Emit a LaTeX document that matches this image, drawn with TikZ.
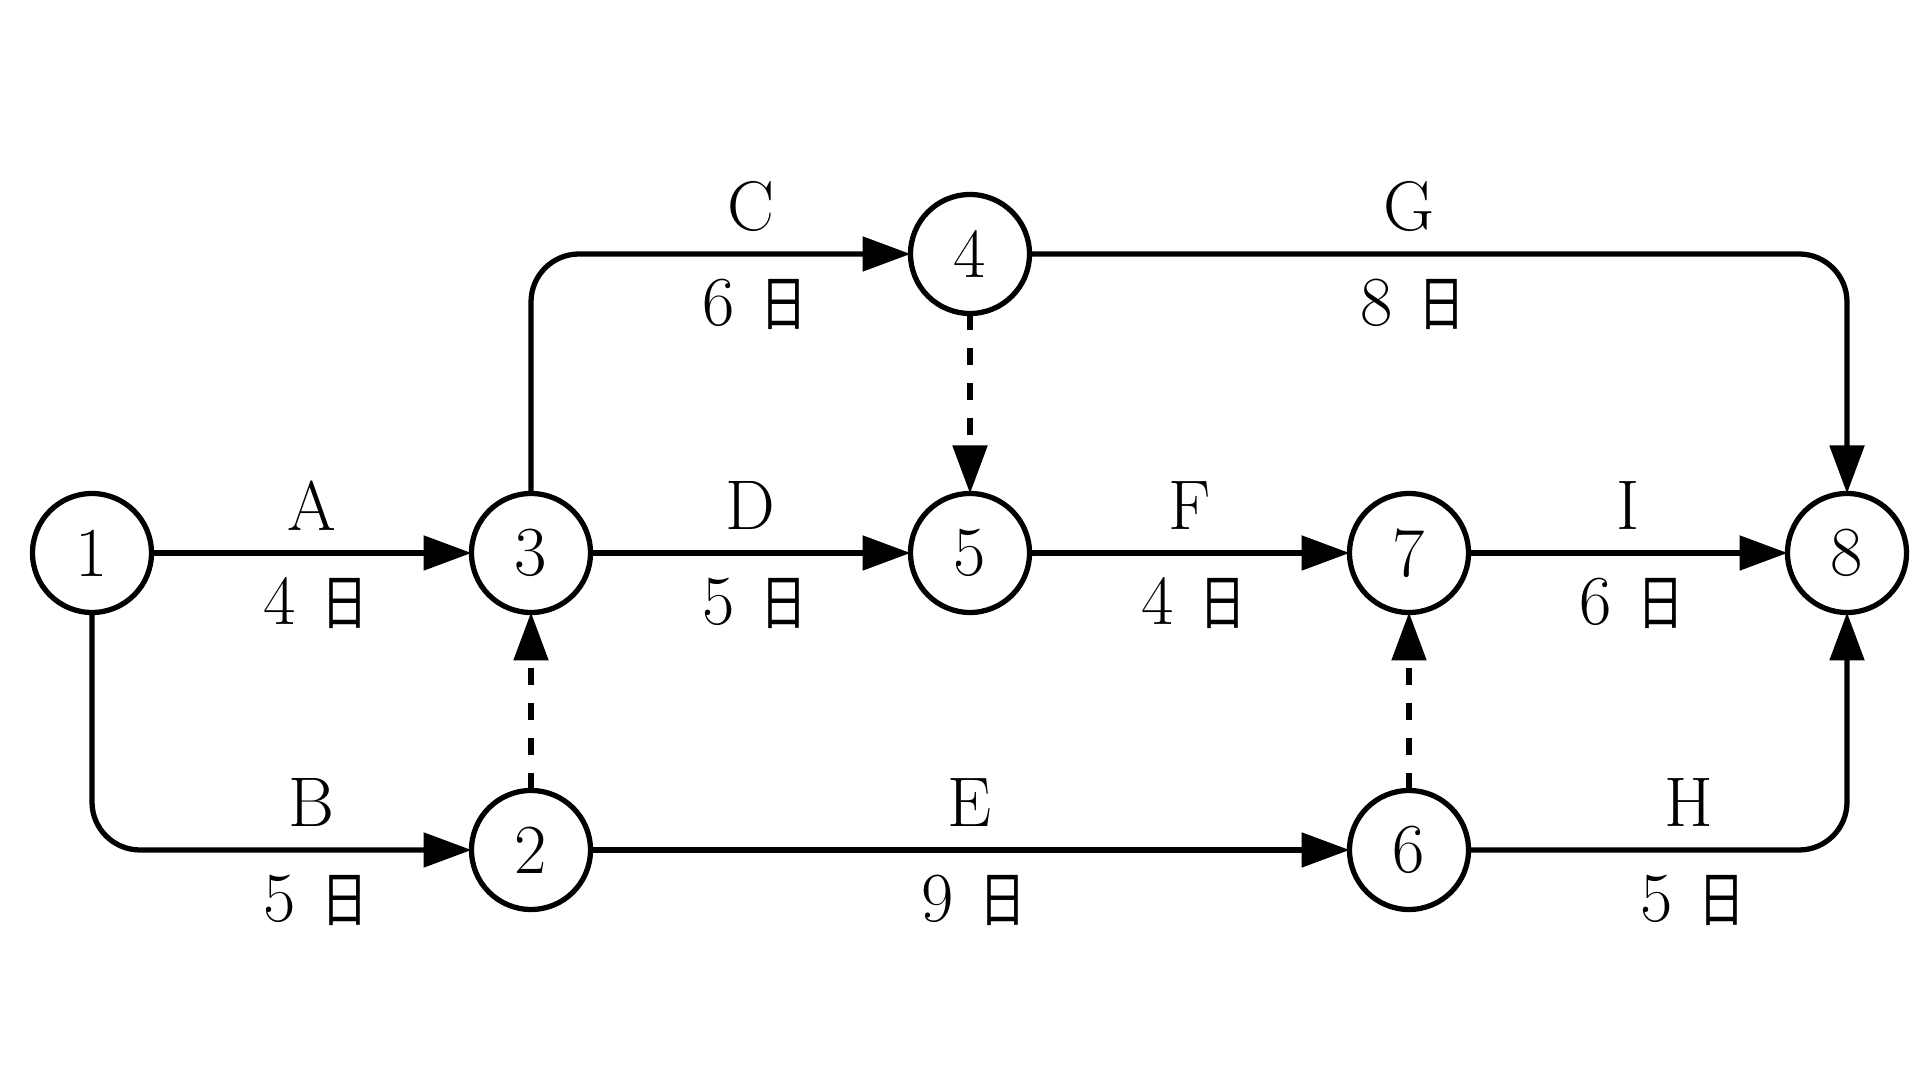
\documentclass[tikz,border=0pt]{standalone}
\usepackage{fontspec}
\usepackage{graphicx}
\usepackage{xcolor}
\usepackage{tikz}
\usetikzlibrary{arrows.meta,positioning,calc}
\newfontfamily\cjk{Noto Sans CJK SC}
\newcommand{\dayunit}{\scalebox{0.78}[1]{\fontsize{17}{20}\selectfont\cjk 日}}
\newcommand{\dur}[1]{\hspace{0.08cm}#1\hspace{0.26cm}\dayunit}

\begin{document}
\begin{tikzpicture}[%
      event/.style={draw, circle, line width=1.5pt, minimum size=1.19cm,
        inner sep=0pt, outer sep=0pt, font=\fontsize{20}{24}\selectfont},
      work/.style={line width=1.5pt, rounded corners=0.48cm,
        -{Triangle[length=0.48cm,width=0.34cm]}},
      dummy/.style={work, dash pattern=on 0.17cm off 0.18cm},
      lab/.style={inner sep=0pt, font=\fontsize{20}{24}\selectfont}]
    \useasboundingbox (0,0) rectangle (19.2,10.8);
    % events
    \node[event] (n1) at (0.92,5.27) {1};
    \node[event] (n3) at (5.31,5.27) {3};
    \node[event] (n5) at (9.70,5.27) {5};
    \node[event] (n7) at (14.09,5.27) {7};
    \node[event] (n8) at (18.47,5.27) {8};
    \node[event] (n4) at (9.70,8.26) {4};
    \node[event] (n2) at (5.31,2.30) {2};
    \node[event] (n6) at (14.09,2.30) {6};
    % activities
    \draw[work] (n1) -- (n3);
    \draw[work] (n1) |- (n2);
    \draw[work] (n3) |- (n4);
    \draw[work] (n3) -- (n5);
    \draw[work] (n2) -- (n6);
    \draw[work] (n5) -- (n7);
    \draw[work] (n4) -| (n8);
    \draw[work] (n7) -- (n8);
    \draw[work] (n6) -| (n8);
    \draw[dummy] (n4) -- (n5);
    \draw[dummy] (n2) -- (n3);
    \draw[dummy] (n6) -- (n7);
    % labels
    \node[lab] (lA) at ([yshift=0.47cm]$(n1)!.5!(n3)$) {A};
    \node[lab] (tA) at ([yshift=-0.5cm]$(n1)!.5!(n3)$) {\dur{4}};
    \node[lab] (lB) at ([yshift=0.47cm]$(n1 |- n2)!.5!(n2)$) {B};
    \node[lab] (tB) at ([yshift=-0.5cm]$(n1 |- n2)!.5!(n2)$) {\dur{5}};
    \node[lab] (lC) at ([yshift=0.47cm]$(n3 |- n4)!.5!(n4)$) {C};
    \node[lab] (tC) at ([yshift=-0.5cm]$(n3 |- n4)!.5!(n4)$) {\dur{6}};
    \node[lab] (lD) at ([yshift=0.47cm]$(n3)!.5!(n5)$) {D};
    \node[lab] (tD) at ([yshift=-0.5cm]$(n3)!.5!(n5)$) {\dur{5}};
    \node[lab] (lE) at ([yshift=0.47cm]n2 -| n5) {E};
    \node[lab] (tE) at ([yshift=-0.5cm]n2 -| n5) {\dur{9}};
    \node[lab] (lF) at ([yshift=0.47cm]$(n5)!.5!(n7)$) {F};
    \node[lab] (tF) at ([yshift=-0.5cm]$(n5)!.5!(n7)$) {\dur{4}};
    \node[lab] (lG) at ([yshift=0.47cm]n4 -| n7) {G};
    \node[lab] (tG) at ([yshift=-0.5cm]n4 -| n7) {\dur{8}};
    \node[lab] (lH) at ([xshift=2.8cm,yshift=0.47cm]n6) {H};
    \node[lab] (tH) at ([xshift=2.8cm,yshift=-0.5cm]n6) {\dur{5}};
    \node[lab] (lI) at ([yshift=0.47cm]$(n7)!.5!(n8)$) {I};
    \node[lab] (tI) at ([yshift=-0.5cm]$(n7)!.5!(n8)$) {\dur{6}};
\end{tikzpicture}
\end{document}
